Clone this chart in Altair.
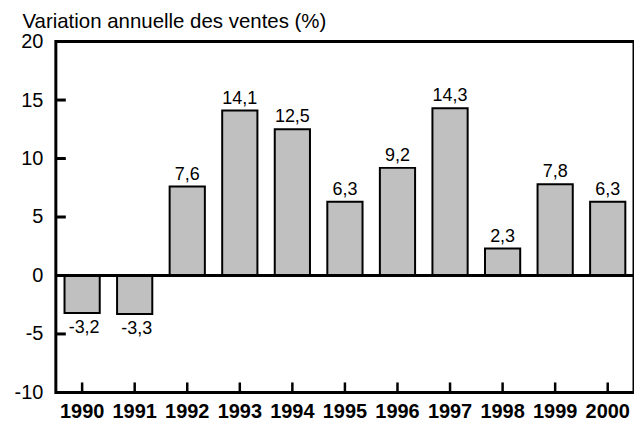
import altair as alt
import pandas as pd

years = ["1990", "1991", "1992", "1993", "1994", "1995", "1996", "1997", "1998", "1999", "2000"]
values = [-3.2, -3.3, 7.6, 14.1, 12.5, 6.3, 9.2, 14.3, 2.3, 7.8, 6.3]
labels = ["-3,2", "-3,3", "7,6", "14,1", "12,5", "6,3", "9,2", "14,3", "2,3", "7,8", "6,3"]
y_tick_values = [-5, 0, 5, 10, 15]
y_axis_values = [-10, -5, 0, 5, 10, 15, 20]
y_domain = [-10, 20]
title_text = "Variation annuelle des ventes (%)"

df = pd.DataFrame({"year": years, "value": values, "label": labels})
ticks_df = pd.DataFrame({"value": y_tick_values})

W, H = 580, 352
FONT = "Liberation Sans"

x_enc = alt.X(
    "year:N", sort=years,
    scale=alt.Scale(paddingInner=0.33, paddingOuter=0.165),
    axis=alt.Axis(title=None, labelAngle=0, labelFontSize=20, labelFontWeight="bold",
                  labelColor="black", ticks=False, domain=False, labelPadding=9, grid=False),
)
y_enc = alt.Y(
    "value:Q",
    scale=alt.Scale(domain=y_domain, nice=False, zero=False),
    axis=alt.Axis(title=title_text, titleAngle=0, titleX=-34, titleY=-14, titleAlign="left",
                  titleBaseline="alphabetic", titleFontSize=20.5, titleFontWeight="normal",
                  titleColor="black", values=y_axis_values, labelExpr="'' + datum.value",
                  labelFontSize=20, labelColor="black",
                  ticks=False, domain=False, grid=False, labelPadding=13, labelFlush=False),
)

base = alt.Chart(df)

bars = base.mark_bar(fill="#c0c0c0", stroke="black", strokeWidth=2).encode(x=x_enc, y=y_enc)

zero = base.mark_rule(color="black", strokeWidth=2).encode(y=alt.datum(0))

xticks = base.mark_rule(color="black", strokeWidth=2.5).encode(
    x=alt.X("year:N", sort=years), y=alt.value(H), y2=alt.value(H - 10)
)

yticks = alt.Chart(ticks_df).mark_rule(color="black", strokeWidth=3).encode(
    y=alt.Y("value:Q"), x=alt.value(0), x2=alt.value(10)
)

pos_text = base.transform_filter("datum.value >= 0").mark_text(
    dy=-7, baseline="alphabetic", fontSize=18, color="black"
).encode(x=alt.X("year:N", sort=years), y=alt.Y("value:Q"), text="label:N")

neg_text = base.transform_filter("datum.value < 0").mark_text(
    dy=20, dx=2, baseline="alphabetic", fontSize=18, color="black"
).encode(x=alt.X("year:N", sort=years), y=alt.Y("value:Q"), text="label:N")

chart = alt.layer(bars, zero, yticks, xticks, pos_text, neg_text).properties(
    width=W, height=H,
    autosize=alt.AutoSizeParams(type="none"),
    padding={"left": 48, "top": 33, "right": 0, "bottom": 30},
).configure(font=FONT).configure_view(stroke="black", strokeWidth=3)

chart.save("out.html", embed_options={"renderer": "svg", "actions": False})
